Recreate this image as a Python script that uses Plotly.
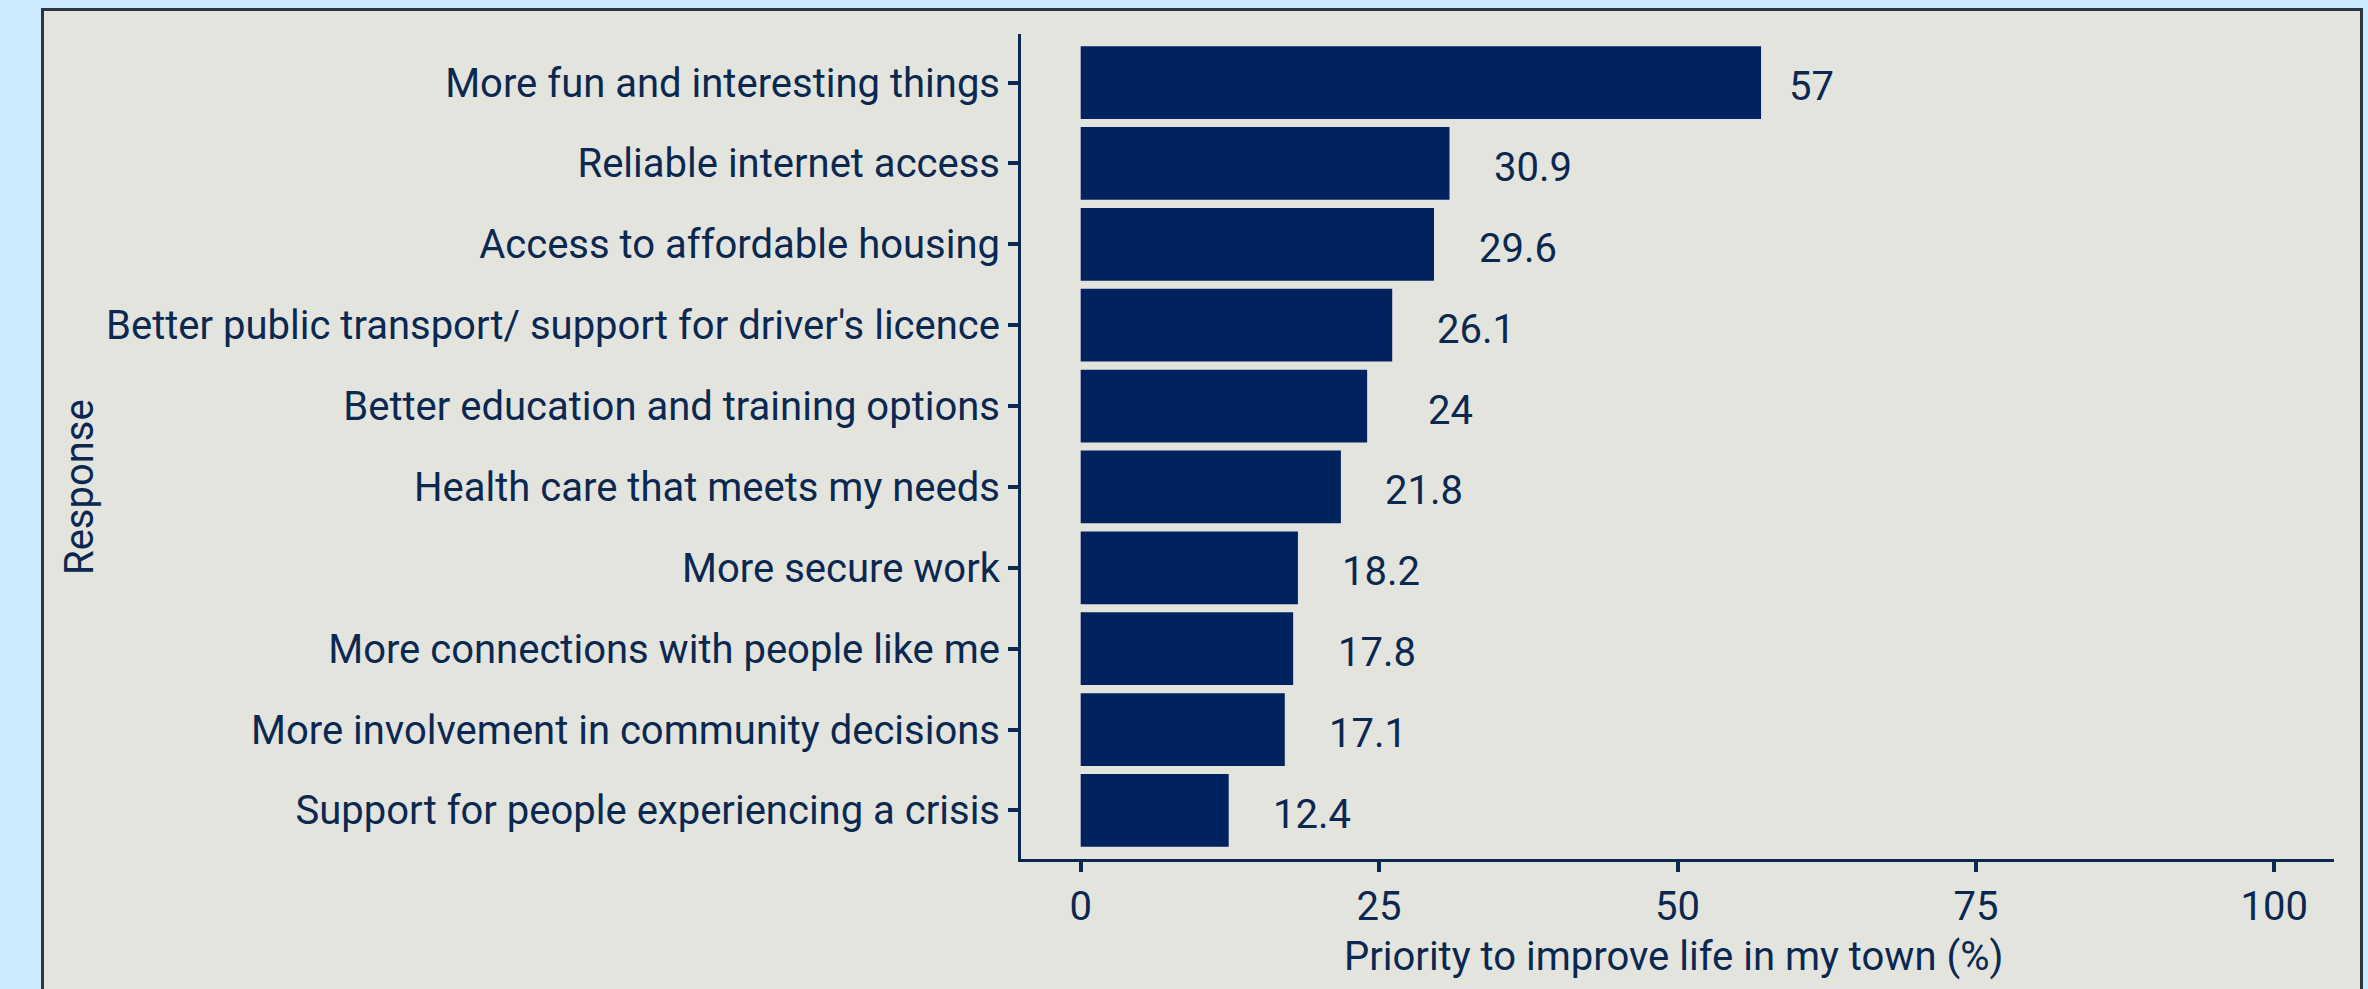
import plotly.graph_objects as go

# Survey responses, ordered top to bottom
responses = [
    "More fun and interesting things",
    "Reliable internet access",
    "Access to affordable housing",
    "Better public transport/ support for driver's licence",
    "Better education and training options",
    "Health care that meets my needs",
    "More secure work",
    "More connections with people like me",
    "More involvement in community decisions",
    "Support for people experiencing a crisis",
]
percent = [57, 30.9, 29.6, 26.1, 24, 21.8, 18.2, 17.8, 17.1, 12.4]
label_nudge = [4.2, 7, 7, 7, 7, 7, 7, 7, 7, 7]

x_ticks = [0, 25, 50, 75, 100]

NAVY = "#00235f"
TEXT = "#0a2850"
PANEL = "#e4e4df"
OUTER = "#cdebfd"
FONT = "Roboto"
FS = 40

W, H = 2368, 989
# plot area in pixels
PL, PR, PT, PB = 1021, 2334, 34, 859


def px(x):
    return (x - PL) / (PR - PL)


def py(y):
    return (PB - y) / (PB - PT)


fig = go.Figure()

fig.add_trace(go.Bar(
    x=percent,
    y=responses,
    orientation="h",
    width=0.9,
    marker=dict(color=NAVY, line=dict(width=0)),
    hoverinfo="skip",
    showlegend=False,
))

# value labels to the right of each bar
for resp, val, nudge in zip(responses, percent, label_nudge):
    fig.add_annotation(
        x=val + nudge, y=resp, xref="x", yref="y",
        text=f"{val:g}", showarrow=False,
        xanchor="center", yanchor="middle", yshift=-4,
        font=dict(family=FONT, size=FS, color=TEXT),
    )

# grey panel with dark frame behind the chart
fig.add_shape(
    type="rect", xref="paper", yref="paper",
    x0=px(42.5), x1=px(2361.5), y0=py(1010), y1=py(9.5),
    line=dict(color="#2b3640", width=3),
    fillcolor=PANEL, layer="below",
)

fig.add_annotation(
    text="Priority to improve life in my town (%)",
    xref="paper", yref="paper", x=px(1673), y=py(956),
    xanchor="center", yanchor="middle", showarrow=False,
    font=dict(family=FONT, size=FS, color=TEXT),
)
fig.add_annotation(
    text="Response",
    xref="paper", yref="paper", x=px(79), y=py(487),
    xanchor="center", yanchor="middle", showarrow=False, textangle=-90,
    font=dict(family=FONT, size=FS, color=TEXT),
)

fig.update_xaxes(
    range=[-5, 105],
    tickvals=x_ticks,
    ticktext=[str(t) for t in x_ticks],
    showgrid=False, zeroline=False,
    showline=True, linecolor=TEXT, linewidth=3,
    ticks="outside", ticklen=10, tickwidth=4, tickcolor=TEXT,
    tickfont=dict(family=FONT, size=FS, color=TEXT),
    fixedrange=True,
)
fig.update_yaxes(
    categoryorder="array",
    categoryarray=responses,
    range=[len(responses) - 0.4, -0.6],
    showgrid=False, zeroline=False,
    showline=True, linecolor=TEXT, linewidth=3,
    ticks="outside", ticklen=10, tickwidth=4, tickcolor=TEXT,
    tickfont=dict(family=FONT, size=FS, color=TEXT),
    fixedrange=True,
)

fig.update_layout(
    width=W, height=H,
    margin=dict(l=PL, r=W - PR, t=PT, b=H - PB, pad=0),
    paper_bgcolor=OUTER,
    plot_bgcolor="rgba(0,0,0,0)",
    font=dict(family=FONT, color=TEXT),
    bargap=0.1,
)

fig.write_html("out.html", config={"displayModeBar": False})
